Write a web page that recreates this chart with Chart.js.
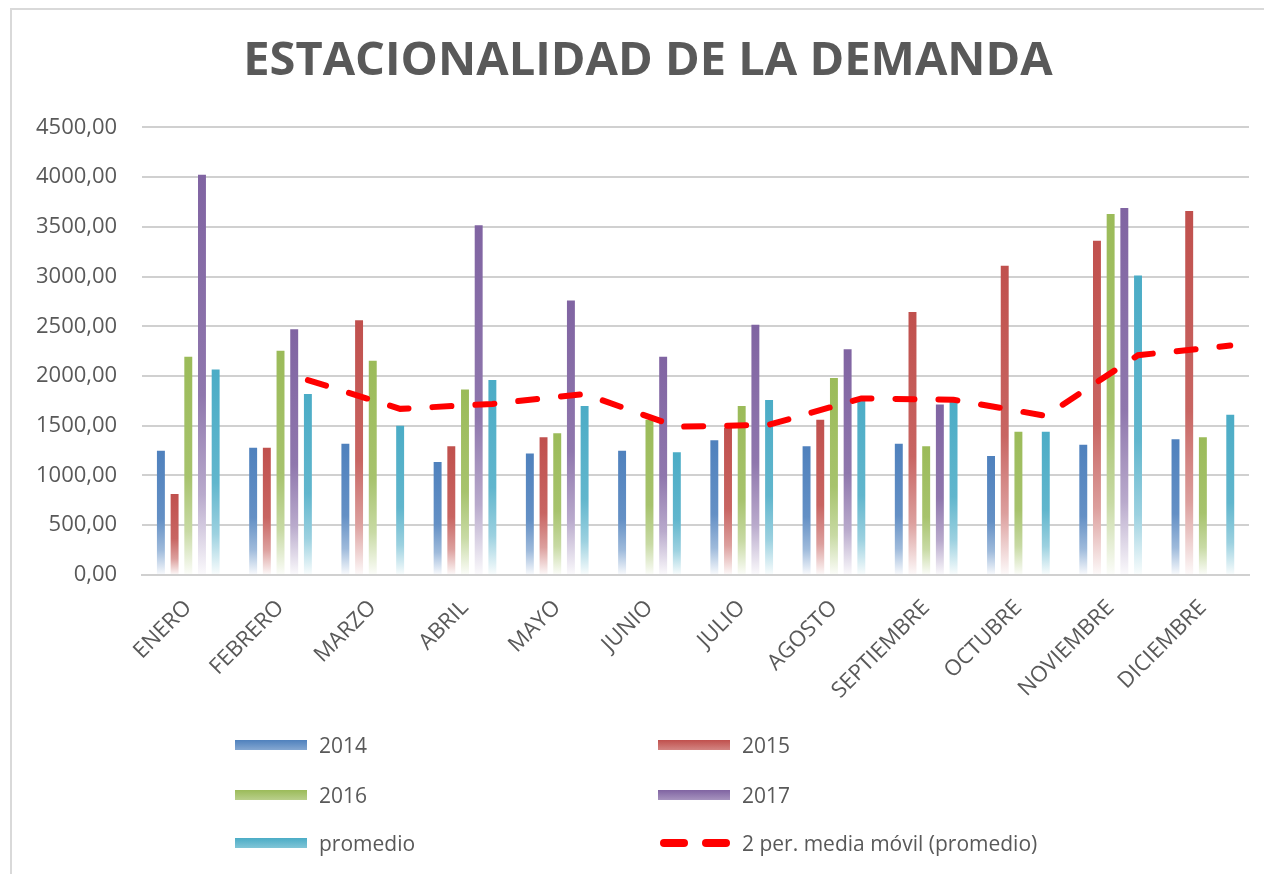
<!DOCTYPE html>
<html><head><meta charset="utf-8">
<script src="https://cdn.jsdelivr.net/npm/chart.js@4.4.0/dist/chart.umd.min.js"></script>
<style>
html,body{margin:0;padding:0;background:#fff;overflow:hidden;width:1264px;height:874px;}
#frame{position:absolute;left:10px;top:8px;width:1280px;height:890px;border:2px solid #d9d9d9;box-sizing:border-box;}
#wrap{position:absolute;left:0;top:0;width:1264px;height:874px;}
#legend{position:absolute;left:0;top:0;width:1264px;height:874px;pointer-events:none;font-family:'Open Sans';font-size:21px;color:#595959;}
.item{position:absolute;display:flex;align-items:center;height:30px;}
.sw{width:72px;height:10px;margin-right:12px;}
.dashes{width:72px;height:10px;margin-right:12px;position:relative;}
.dashes span{position:absolute;top:1px;height:8px;width:28px;border-radius:4px;background:#ff0000;}
</style></head>
<body>
<div id="frame"></div>
<div id="wrap"><canvas id="c" width="1264" height="874"></canvas></div>
<div id="legend"></div>
<script>
const meses = ['ENERO','FEBRERO','MARZO','ABRIL','MAYO','JUNIO','JULIO','AGOSTO','SEPTIEMBRE','OCTUBRE','NOVIEMBRE','DICIEMBRE'];
const d2014 = [1250, 1280, 1320, 1135, 1220, 1250, 1355, 1295, 1320, 1195, 1310, 1365];
const d2015 = [815, 1280, 2560, 1295, 1385, null, 1480, 1560, 2645, 3110, 3360, 3660];
const d2016 = [2195, 2255, 2155, 1865, 1425, 1560, 1700, 1980, 1295, 1440, 3630, 1385];
const d2017 = [4025, 2470, null, 3515, 2760, 2195, 2515, 2270, 1715, null, 3690, null];
const promedio = [2065, 1820, 1500, 1960, 1700, 1235, 1760, 1770, 1750, 1440, 3010, 1610];
const mediaMovil = [null, 1960, 1670, 1720, 1820, 1490, 1510, 1775, 1762, 1600, 2210, 2306];
const yMax = 4500, yStep = 500;

const GRAY = '#595959';
const CAT_PCT = 0.742, BAR_PCT = 0.58;
const TITLE_CENTER = 648; // title is centred on the (wider) chart frame

function mix(hex, f){
  const n = parseInt(hex.slice(1),16);
  const r=(n>>16)&255,g=(n>>8)&255,b=n&255;
  const m=c=>Math.round(c+(255-c)*f);
  return `rgb(${m(r)},${m(g)},${m(b)})`;
}
function gradFill(color){
  return (ctx)=>{
    const chart=ctx.chart;
    if(!chart.chartArea || ctx.type!=='data' || ctx.raw==null) return color;
    const y=chart.scales.y;
    const top=y.getPixelForValue(ctx.raw), base=y.getPixelForValue(0);
    if(!isFinite(top) || base-top<1) return color;
    const g=chart.ctx.createLinearGradient(0,top,0,base);
    g.addColorStop(0,color);
    g.addColorStop(0.55,mix(color,0.12));
    g.addColorStop(0.8,mix(color,0.45));
    g.addColorStop(1,mix(color,0.97));
    return g;
  };
}

const series = [
  {label:'2014', data:d2014, color:'#4F81BD'},
  {label:'2015', data:d2015, color:'#C0504D'},
  {label:'2016', data:d2016, color:'#9BBB59'},
  {label:'2017', data:d2017, color:'#8064A2'},
  {label:'promedio', data:promedio, color:'#4BACC6'}
];
const PROM_INDEX = 4;

const datasets = series.map(s=>({
  type:'bar', label:s.label, data:s.data,
  backgroundColor:gradFill(s.color), legendColor:s.color,
  categoryPercentage:CAT_PCT, barPercentage:BAR_PCT, order:1
}));
datasets.push({
  type:'line', label:'2 per. media móvil (promedio)', order:0, trendOf:PROM_INDEX,
  data: mediaMovil,
  borderColor:'#FF0000', borderWidth:6, borderDash:[19,24], borderCapStyle:'round',
  pointRadius:0, fill:false, tension:0, spanGaps:false, legendColor:'#FF0000'
});

// The moving-average trendline is attached to the "promedio" series, so it is drawn
// through the centres of the promedio bars: shift it by that bar's offset in its category.
const trendShift = {
  id:'trendShift',
  beforeDatasetDraw(chart, args){
    const ds = chart.data.datasets[args.index];
    if(ds.trendOf === undefined) return;
    const bar = chart.getDatasetMeta(ds.trendOf).data[1];
    const dx = bar.x - chart.scales.x.getPixelForValue(1);
    chart.ctx.save(); chart.ctx.translate(dx,0);
  },
  afterDatasetDraw(chart, args){
    const ds = chart.data.datasets[args.index];
    if(ds.trendOf === undefined) return;
    chart.ctx.restore();
  }
};
const titleCenter = {
  id:'titleCenter',
  afterLayout(chart){
    const t = chart.titleBlock;
    if(t) t.left = 2*TITLE_CENTER - t.right;
  }
};

const chart = new Chart(document.getElementById('c'), {
  type:'bar',
  data:{labels:meses, datasets},
  plugins:[trendShift, titleCenter],
  options:{
    responsive:false, devicePixelRatio:1, animation:false,
    layout:{padding:{left:11, right:15, top:0, bottom:150}},
    plugins:{
      legend:{display:false}, tooltip:{enabled:false},
      title:{display:true, text:'ESTACIONALIDAD DE LA DEMANDA', color:GRAY,
        font:{family:'Open Sans', size:47, weight:'bold'}, padding:{top:33, bottom:38}}
    },
    scales:{
      x:{type:'category', offset:true,
        grid:{display:false, drawTicks:false},
        border:{display:true, color:'#d0d0d0', width:2},
        ticks:{color:GRAY, font:{family:'Open Sans', size:22}, maxRotation:45, minRotation:45, autoSkip:false, padding:20}},
      y:{min:0, max:yMax,
        grid:{color:'#d0d0d0', lineWidth:2, drawTicks:false},
        border:{display:false},
        ticks:{stepSize:yStep, color:GRAY, font:{family:'Open Sans', size:22}, padding:25,
          callback:v=>v.toFixed(2).replace('.',',')}}
    }
  }
});

// HTML legend built from the chart's datasets (two columns, three rows)
const leg=document.getElementById('legend');
const colX=[235,658], rowY=[745,795,843];
chart.data.datasets.forEach((ds,i)=>{
  const it=document.createElement('div'); it.className='item';
  it.style.left=colX[i%2]+'px'; it.style.top=(rowY[Math.floor(i/2)]-15)+'px';
  let sw;
  if(ds.type==='line'){
    sw=document.createElement('div'); sw.className='dashes';
    const a=document.createElement('span'); a.style.left='2px';
    const b=document.createElement('span'); b.style.left='44px';
    sw.appendChild(a); sw.appendChild(b);
  } else {
    sw=document.createElement('div'); sw.className='sw';
    sw.style.background=`linear-gradient(to bottom, ${ds.legendColor}, ${mix(ds.legendColor,0.3)})`;
  }
  const t=document.createElement('span'); t.textContent=ds.label;
  it.appendChild(sw); it.appendChild(t); leg.appendChild(it);
});
</script>
</body></html>
